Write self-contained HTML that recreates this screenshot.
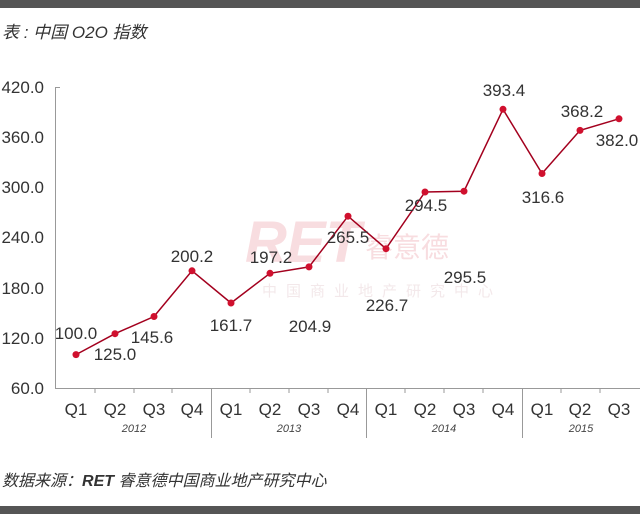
<!DOCTYPE html>
<html><head><meta charset="utf-8"><style>
html,body{margin:0;padding:0;background:#fff;}
svg{display:block;}
text{font-family:"Liberation Sans","Noto Sans CJK SC",sans-serif;}
</style></head><body>
<svg width="640" height="514" viewBox="0 0 640 514">
<rect x="0" y="0" width="640" height="8" fill="#555"/>
<rect x="0" y="506" width="640" height="8" fill="#555"/>
<text x="2" y="38" font-size="17" font-style="italic" fill="#333">表 : 中国 O2O 指数</text>
<text x="245" y="262" font-size="58" font-weight="bold" font-style="italic" fill="#f8dde0">RET</text>
<text x="365" y="257" font-size="28" fill="#f8dde0">睿意德</text>
<text x="262" y="296" font-size="15" fill="#f3e8ea" letter-spacing="9">中国商业地产研究中心</text>
<g stroke="#999" stroke-width="1" fill="none">
<line x1="55.5" y1="87" x2="55.5" y2="388"/>
<line x1="55" y1="388.5" x2="640" y2="388.5"/>
<line x1="55" y1="87.5" x2="60" y2="87.5"/>
<line x1="211.5" y1="388" x2="211.5" y2="438"/>
<line x1="366.5" y1="388" x2="366.5" y2="438"/>
<line x1="522.5" y1="388" x2="522.5" y2="438"/>
<line x1="95" y1="388" x2="95" y2="393"/><line x1="134" y1="388" x2="134" y2="393"/><line x1="172" y1="388" x2="172" y2="393"/>
<line x1="250" y1="388" x2="250" y2="393"/><line x1="289" y1="388" x2="289" y2="393"/><line x1="328" y1="388" x2="328" y2="393"/>
<line x1="405" y1="388" x2="405" y2="393"/><line x1="444" y1="388" x2="444" y2="393"/><line x1="483" y1="388" x2="483" y2="393"/>
<line x1="561" y1="388" x2="561" y2="393"/><line x1="600" y1="388" x2="600" y2="393"/>
</g>
<g font-size="17" fill="#333" text-anchor="end">
<text x="44" y="93">420.0</text><text x="44" y="143">360.0</text><text x="44" y="193">300.0</text>
<text x="44" y="243">240.0</text><text x="44" y="294">180.0</text><text x="44" y="344">120.0</text><text x="44" y="394">60.0</text>
</g>
<g font-size="17" fill="#333" text-anchor="middle">
<text x="76" y="415">Q1</text><text x="115" y="415">Q2</text><text x="154" y="415">Q3</text><text x="192" y="415">Q4</text>
<text x="231" y="415">Q1</text><text x="270" y="415">Q2</text><text x="309" y="415">Q3</text><text x="348" y="415">Q4</text>
<text x="386" y="415">Q1</text><text x="425" y="415">Q2</text><text x="464" y="415">Q3</text><text x="503" y="415">Q4</text>
<text x="542" y="415">Q1</text><text x="580" y="415">Q2</text><text x="619" y="415">Q3</text>
</g>
<g font-size="11" font-style="italic" fill="#444" text-anchor="middle">
<text x="134" y="432">2012</text><text x="289" y="432">2013</text><text x="444" y="432">2014</text><text x="581" y="432">2015</text>
</g>
<text x="2" y="486" font-size="16" font-style="italic" fill="#333">数据来源：<tspan font-weight="bold">RET</tspan> 睿意德中国商业地产研究中心</text>
<polyline fill="none" stroke="#a3001e" stroke-width="1.5" points="76,354.6 115,333.7 154,316.5 192,270.8 231,303 270,273.3 309,266.9 348,216.2 386,248.7 425,192 464,191.2 503,109.3 542,173.5 580,130.4 619,118.8"/>
<g fill="#d0102e">
<circle cx="76" cy="354.6" r="3.5"/><circle cx="115" cy="333.7" r="3.5"/><circle cx="154" cy="316.5" r="3.5"/><circle cx="192" cy="270.8" r="3.5"/>
<circle cx="231" cy="303" r="3.5"/><circle cx="270" cy="273.3" r="3.5"/><circle cx="309" cy="266.9" r="3.5"/><circle cx="348" cy="216.2" r="3.5"/>
<circle cx="386" cy="248.7" r="3.5"/><circle cx="425" cy="192" r="3.5"/><circle cx="464" cy="191.2" r="3.5"/><circle cx="503" cy="109.3" r="3.5"/>
<circle cx="542" cy="173.5" r="3.5"/><circle cx="580" cy="130.4" r="3.5"/><circle cx="619" cy="118.8" r="3.5"/>
</g>
<g font-size="17" fill="#333" text-anchor="middle">
<text x="76" y="339">100.0</text><text x="115" y="360">125.0</text><text x="152" y="343">145.6</text><text x="192" y="262">200.2</text>
<text x="231" y="331">161.7</text><text x="271" y="263">197.2</text><text x="310" y="332">204.9</text><text x="348" y="243">265.5</text>
<text x="387" y="311">226.7</text><text x="426" y="211">294.5</text><text x="465" y="283">295.5</text><text x="504" y="96">393.4</text>
<text x="543" y="203">316.6</text><text x="582" y="117">368.2</text><text x="617" y="146">382.0</text>
</g>
</svg>
</body></html>
